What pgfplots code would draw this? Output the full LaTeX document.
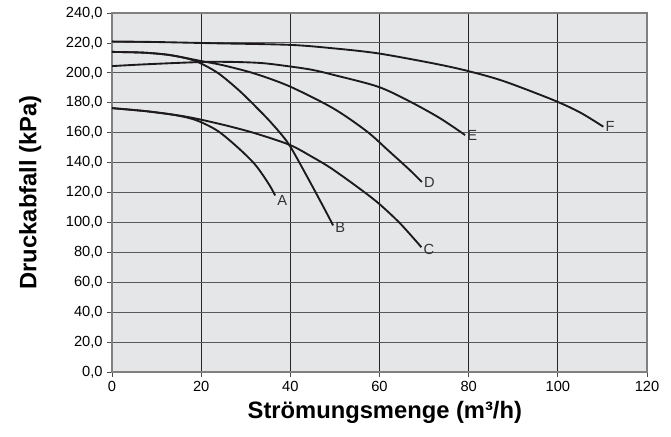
\documentclass[border=0pt]{standalone}
\usepackage{fontspec}
\setmainfont{Liberation Sans}
\usepackage{pgfplots}
\pgfplotsset{compat=1.18}

\definecolor{plotbg}{HTML}{E5E6E8}
\definecolor{curve}{HTML}{1C1A1A}

\pgfplotsset{
  pump/.style={color=curve, line width=1.4pt, no marks, smooth},
}
\tikzset{
  curvelabel/.style={pos=1, anchor=west, inner sep=1pt, font=\fontsize{11}{13}\selectfont, text=black!80},
}

\begin{document}
\begin{tikzpicture}
\begin{axis}[
  at={(0,0)}, anchor=south west,
  scale only axis, width=401.25pt, height=269.25pt,
  xmin=0, xmax=120, ymin=0, ymax=240,
  xtick={0,20,...,120}, ytick={0,20,...,240},
  tick pos=left, tick align=outside, major tick length=3.5pt,
  tick style={color=black!70, line width=0.6pt},
  grid=major,
  x grid style={color=black!85, line width=0.7pt},
  y grid style={color=black!65, line width=0.7pt},
  axis line style={color=black!50, line width=0.8pt},
  axis background/.style={fill=plotbg},
  /pgf/number format/assume math mode=true,
  ticklabel style={font=\fontsize{11}{13}\selectfont},
  yticklabel style={/pgf/number format/.cd, fixed, fixed zerofill, precision=1, use comma},
  xticklabel style={yshift=-2pt, inner sep=1pt, /pgf/number format/.cd, fixed, precision=0},
  xlabel={Strömungsmenge (m³/h)},
  ylabel={Druckabfall (kPa)},
  label style={font=\fontsize{17.8}{21}\selectfont\bfseries, inner sep=1pt},
  xlabel style={at={(axis description cs:0.51,-0.112)}, anchor=center},
  ylabel style={at={(axis description cs:-0.153,0.5)}, anchor=center},
  clip=false,
]
% A
\addplot[pump] coordinates {(0,176.4) (7.5,174.4) (13,172.3) (17,170) (20,167) (23.9,160.8) (28.4,149.6) (32.2,138.3) (35.2,125.5) (36.6,118)}
  node[curvelabel, yshift=-3.5pt] {A};
% B
\addplot[pump] coordinates {(0,214) (7,213.5) (12.7,212) (17,209.5) (19.8,206.5) (23.9,199.6) (28.4,188.5) (32.2,177.5) (35.9,166) (39.6,152.5) (43.6,131.5) (47.4,110.5) (49.6,98)}
  node[curvelabel, yshift=-1.5pt] {B};
% C
\addplot[pump] coordinates {(0,176.4) (7.5,174.4) (15,171.5) (19.8,168.8) (26,164.5) (32.2,159.5) (39.9,151.8) (44.9,143.8) (49,136.5) (54.9,124) (59.7,113) (64.6,99.4) (69.4,83.4)}
  node[curvelabel, yshift=-2pt] {C};
% D
\addplot[pump] coordinates {(0,214) (7,213.5) (12.7,212) (19.8,208) (25,205) (32,199.5) (39.8,191) (49.6,176.3) (57.1,161) (62,148) (66.8,135) (69.5,127)}
  node[curvelabel, yshift=-0.5pt] {D};
% E
\addplot[pump] coordinates {(0,204.5) (7.5,205.7) (19.8,207.2) (27,207.3) (33.7,206.5) (39.8,204.3) (44.9,202) (49.6,198.7) (59.7,190.7) (66.9,180.7) (73.6,169.6) (79.2,158.4)}
  node[curvelabel, yshift=-0.5pt] {E};
% F
\addplot[pump] coordinates {(0,221) (10,220.6) (22.4,219.8) (39.8,218.7) (49.6,216.4) (59.7,213) (72.1,206.3) (79.6,201.4) (87.8,194.5) (99,181.8) (105,173.5) (110.2,164)}
  node[curvelabel] {F};
\end{axis}
\pgfresetboundingbox
\path (-84pt,-48pt) rectangle (419.25pt,279pt);
\end{tikzpicture}
\end{document}
